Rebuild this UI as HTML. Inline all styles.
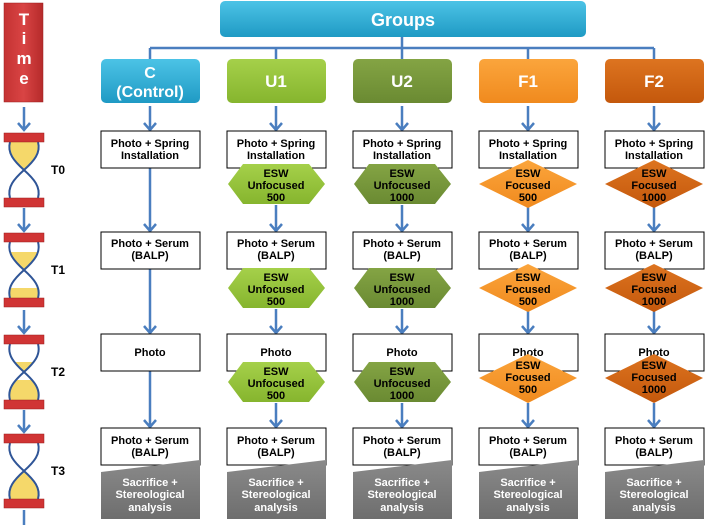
<!DOCTYPE html>
<html><head><meta charset="utf-8"><style>
html,body{margin:0;padding:0;background:#fff;width:708px;height:525px;overflow:hidden}
svg text{font-family:"Liberation Sans",sans-serif;font-weight:bold;text-anchor:middle}
.b{fill:#fff;stroke:#000;stroke-width:1}
.t{font-size:11px;fill:#000}
.w{font-size:11px;fill:#fff}
.h{font-size:17px;fill:#fff}
.ln{stroke:#4a7ebf;stroke-width:2.5;fill:none}
.hg{stroke:#2f5597;stroke-width:2;fill:none}
.bar{fill:#d03434;stroke:#9b1f1f;stroke-width:.5}
.sd{fill:#f5d86a}
</style></head><body>
<svg width="708" height="525" viewBox="0 0 708 525" xmlns="http://www.w3.org/2000/svg">
<defs>
<linearGradient id="cy" x1="0" y1="0" x2="0" y2="1"><stop offset="0" stop-color="#4cc3e6"/><stop offset="1" stop-color="#1f9ac4"/></linearGradient>
<linearGradient id="g1" x1="0" y1="0" x2="0" y2="1"><stop offset="0" stop-color="#a5d04a"/><stop offset="1" stop-color="#86b52e"/></linearGradient>
<linearGradient id="g2" x1="0" y1="0" x2="0" y2="1"><stop offset="0" stop-color="#84a444"/><stop offset="1" stop-color="#6a8a32"/></linearGradient>
<linearGradient id="o1" x1="0" y1="0" x2="0" y2="1"><stop offset="0" stop-color="#fba53c"/><stop offset="1" stop-color="#f08a1e"/></linearGradient>
<linearGradient id="o2" x1="0" y1="0" x2="0" y2="1"><stop offset="0" stop-color="#dd7420"/><stop offset="1" stop-color="#c4580c"/></linearGradient>
<linearGradient id="rd" x1="0" y1="0" x2="1" y2="0"><stop offset="0" stop-color="#c43232"/><stop offset=".5" stop-color="#d94444"/><stop offset="1" stop-color="#b52a2a"/></linearGradient>
<linearGradient id="gy" x1="0" y1="0" x2="0" y2="1"><stop offset="0" stop-color="#8a8a8a"/><stop offset="1" stop-color="#6e6e6e"/></linearGradient>
</defs>

<!-- Time -->
<rect x="4" y="3" width="39" height="99" fill="url(#rd)" stroke="#9b1f1f" stroke-width=".5"/>
<text x="24" y="25" class="h" style="font-size:17px">T</text>
<text x="24" y="44" class="h" style="font-size:17px">i</text>
<text x="24" y="64" class="h" style="font-size:17px">m</text>
<text x="24" y="84" class="h" style="font-size:17px">e</text>

<!-- time arrows -->
<path class="ln" d="M24,107V130M18,123L24,130L30,123"/>
<path class="ln" d="M24,208V231M18,224L24,231L30,224"/>
<path class="ln" d="M24,310V333M18,326L24,333L30,326"/>
<path class="ln" d="M24,410V432M18,425L24,432L30,425"/>
<path class="ln" d="M24,510V525"/>

<!-- hourglass T0 t=133 -->
<path class="sd" d="M10,142 C7,153 14,161 24,170 C34,161 41,153 38,142Z"/>
<path class="hg" d="M10,142 C7,153 14,161 24,170 C34,179 41,187 38,198 M38,142 C41,153 34,161 24,170 C14,179 7,187 10,198"/>
<rect class="bar" x="4" y="133" width="40" height="9"/><rect class="bar" x="4" y="198" width="40" height="9"/>
<text x="58" y="174" class="t" style="font-size:12px">T0</text>

<!-- T1 t=233 -->
<clipPath id="c1a"><rect x="0" y="252" width="50" height="20"/></clipPath>
<clipPath id="c1b"><rect x="0" y="288" width="50" height="12"/></clipPath>
<path class="sd" clip-path="url(#c1a)" d="M10,242 C7,253 14,261 24,270 C34,261 41,253 38,242Z"/>
<path class="sd" clip-path="url(#c1b)" d="M24,270 C34,279 41,287 38,298 L10,298 C7,287 14,279 24,270Z"/>
<path class="hg" d="M10,242 C7,253 14,261 24,270 C34,279 41,287 38,298 M38,242 C41,253 34,261 24,270 C14,279 7,287 10,298"/>
<rect class="bar" x="4" y="233" width="40" height="9"/><rect class="bar" x="4" y="298" width="40" height="9"/>
<text x="58" y="274" class="t" style="font-size:12px">T1</text>

<!-- T2 t=335 -->
<clipPath id="c2a"><rect x="0" y="362" width="50" height="12"/></clipPath>
<clipPath id="c2b"><rect x="0" y="380" width="50" height="22"/></clipPath>
<path class="sd" clip-path="url(#c2a)" d="M10,344 C7,355 14,363 24,372 C34,363 41,355 38,344Z"/>
<path class="sd" clip-path="url(#c2b)" d="M24,372 C34,381 41,389 38,400 L10,400 C7,389 14,381 24,372Z"/>
<path class="hg" d="M10,344 C7,355 14,363 24,372 C34,381 41,389 38,400 M38,344 C41,355 34,363 24,372 C14,381 7,389 10,400"/>
<rect class="bar" x="4" y="335" width="40" height="9"/><rect class="bar" x="4" y="400" width="40" height="9"/>
<text x="58" y="376" class="t" style="font-size:12px">T2</text>

<!-- T3 t=434 -->
<path class="sd" d="M24,471 C34,480 41,488 38,499 L10,499 C7,488 14,480 24,471Z"/>
<path class="hg" d="M10,443 C7,454 14,462 24,471 C34,480 41,488 38,499 M38,443 C41,454 34,462 24,471 C14,480 7,488 10,499"/>
<rect class="bar" x="4" y="434" width="40" height="9"/><rect class="bar" x="4" y="499" width="40" height="9"/>
<text x="58" y="475" class="t" style="font-size:12px">T3</text>

<!-- Groups -->
<rect x="220" y="1" width="366" height="36" rx="5" fill="url(#cy)"/>
<text x="403" y="26" class="h" style="font-size:18px">Groups</text>
<path class="ln" d="M150,48H654M150,48V59M276,48V59M402,37V59M528,48V59M654,48V59" style="stroke-width:2.5"/>

<rect x="101" y="59" width="99" height="44" rx="5" fill="url(#cy)"/>
<text x="150" y="78" class="h" style="font-size:16px">C</text>
<text x="150" y="97" class="h" style="font-size:16px">(Control)</text>
<rect x="227" y="59" width="99" height="44" rx="5" fill="url(#g1)"/>
<text x="276" y="87" class="h">U1</text>
<rect x="353" y="59" width="99" height="44" rx="5" fill="url(#g2)"/>
<text x="402" y="87" class="h">U2</text>
<rect x="479" y="59" width="99" height="44" rx="5" fill="url(#o1)"/>
<text x="528" y="87" class="h">F1</text>
<rect x="605" y="59" width="99" height="44" rx="5" fill="url(#o2)"/>
<text x="654" y="87" class="h">F2</text>

<!-- C column arrows -->
<path class="ln" d="M150,106V130M144,123L150,130L156,123 M150,168V231M144,224L150,231L156,224 M150,269V333M144,326L150,333L156,326 M150,371V427M144,420L150,427L156,420"/>
<!-- other column arrows -->
<path class="ln" d="M276,106V130M270,123L276,130L282,123 M276,205V231M270,224L276,231L282,224 M276,309V333M270,326L276,333L282,326 M276,403V427M270,420L276,427L282,420"/>
<path class="ln" d="M402,106V130M396,123L402,130L408,123 M402,205V231M396,224L402,231L408,224 M402,309V333M396,326L402,333L408,326 M402,403V427M396,420L402,427L408,420"/>
<path class="ln" d="M528,106V130M522,123L528,130L534,123 M528,205V231M522,224L528,231L534,224 M528,309V333M522,326L528,333L534,326 M528,403V427M522,420L528,427L534,420"/>
<path class="ln" d="M654,106V130M648,123L654,130L660,123 M654,205V231M648,224L654,231L660,224 M654,309V333M648,326L654,333L660,326 M654,403V427M648,420L654,427L660,420"/>

<!-- Row 1 boxes -->
<rect class="b" x="101" y="131" width="99" height="37"/><text x="150" y="147" class="t">Photo + Spring</text><text x="150" y="159" class="t">Installation</text>
<rect class="b" x="227" y="131" width="99" height="37"/><text x="276" y="147" class="t">Photo + Spring</text><text x="276" y="159" class="t">Installation</text>
<rect class="b" x="353" y="131" width="99" height="37"/><text x="402" y="147" class="t">Photo + Spring</text><text x="402" y="159" class="t">Installation</text>
<rect class="b" x="479" y="131" width="99" height="37"/><text x="528" y="147" class="t">Photo + Spring</text><text x="528" y="159" class="t">Installation</text>
<rect class="b" x="605" y="131" width="99" height="37"/><text x="654" y="147" class="t">Photo + Spring</text><text x="654" y="159" class="t">Installation</text>

<!-- Row 2 boxes -->
<rect class="b" x="101" y="232" width="99" height="37"/><text x="150" y="247" class="t">Photo + Serum</text><text x="150" y="259" class="t">(BALP)</text>
<rect class="b" x="227" y="232" width="99" height="37"/><text x="276" y="247" class="t">Photo + Serum</text><text x="276" y="259" class="t">(BALP)</text>
<rect class="b" x="353" y="232" width="99" height="37"/><text x="402" y="247" class="t">Photo + Serum</text><text x="402" y="259" class="t">(BALP)</text>
<rect class="b" x="479" y="232" width="99" height="37"/><text x="528" y="247" class="t">Photo + Serum</text><text x="528" y="259" class="t">(BALP)</text>
<rect class="b" x="605" y="232" width="99" height="37"/><text x="654" y="247" class="t">Photo + Serum</text><text x="654" y="259" class="t">(BALP)</text>

<!-- Row 3 boxes -->
<rect class="b" x="101" y="334" width="99" height="37"/><text x="150" y="356" class="t">Photo</text>
<rect class="b" x="227" y="334" width="99" height="37"/><text x="276" y="356" class="t">Photo</text>
<rect class="b" x="353" y="334" width="99" height="37"/><text x="402" y="356" class="t">Photo</text>
<rect class="b" x="479" y="334" width="99" height="37"/><text x="528" y="356" class="t">Photo</text>
<rect class="b" x="605" y="334" width="99" height="37"/><text x="654" y="356" class="t">Photo</text>

<!-- Row 4 boxes -->
<rect class="b" x="101" y="428" width="99" height="37"/><text x="150" y="444" class="t">Photo + Serum</text><text x="150" y="456" class="t">(BALP)</text>
<rect class="b" x="227" y="428" width="99" height="37"/><text x="276" y="444" class="t">Photo + Serum</text><text x="276" y="456" class="t">(BALP)</text>
<rect class="b" x="353" y="428" width="99" height="37"/><text x="402" y="444" class="t">Photo + Serum</text><text x="402" y="456" class="t">(BALP)</text>
<rect class="b" x="479" y="428" width="99" height="37"/><text x="528" y="444" class="t">Photo + Serum</text><text x="528" y="456" class="t">(BALP)</text>
<rect class="b" x="605" y="428" width="99" height="37"/><text x="654" y="444" class="t">Photo + Serum</text><text x="654" y="456" class="t">(BALP)</text>

<!-- Gray sacrifice -->
<g>
<polygon points="101,472 200,460 200,519 101,519" fill="url(#gy)"/><text x="150" y="486" class="w">Sacrifice +</text><text x="150" y="498" class="w">Stereological</text><text x="150" y="511" class="w">analysis</text>
<polygon points="227,472 326,460 326,519 227,519" fill="url(#gy)"/><text x="276" y="486" class="w">Sacrifice +</text><text x="276" y="498" class="w">Stereological</text><text x="276" y="511" class="w">analysis</text>
<polygon points="353,472 452,460 452,519 353,519" fill="url(#gy)"/><text x="402" y="486" class="w">Sacrifice +</text><text x="402" y="498" class="w">Stereological</text><text x="402" y="511" class="w">analysis</text>
<polygon points="479,472 578,460 578,519 479,519" fill="url(#gy)"/><text x="528" y="486" class="w">Sacrifice +</text><text x="528" y="498" class="w">Stereological</text><text x="528" y="511" class="w">analysis</text>
<polygon points="605,472 704,460 704,519 605,519" fill="url(#gy)"/><text x="654" y="486" class="w">Sacrifice +</text><text x="654" y="498" class="w">Stereological</text><text x="654" y="511" class="w">analysis</text>
</g>

<!-- U1 hexes -->
<polygon points="228,184 243,164 309,164 325,184 309,204 243,204" fill="url(#g1)"/>
<text x="276" y="177" class="t">ESW</text><text x="276" y="189" class="t">Unfocused</text><text x="276" y="201" class="t">500</text>
<polygon points="228,288 243,268 309,268 325,288 309,308 243,308" fill="url(#g1)"/>
<text x="276" y="281" class="t">ESW</text><text x="276" y="293" class="t">Unfocused</text><text x="276" y="305" class="t">500</text>
<polygon points="228,382 243,362 309,362 325,382 309,402 243,402" fill="url(#g1)"/>
<text x="276" y="375" class="t">ESW</text><text x="276" y="387" class="t">Unfocused</text><text x="276" y="399" class="t">500</text>

<!-- U2 hexes -->
<polygon points="354,184 369,164 435,164 451,184 435,204 369,204" fill="url(#g2)"/>
<text x="402" y="177" class="t">ESW</text><text x="402" y="189" class="t">Unfocused</text><text x="402" y="201" class="t">1000</text>
<polygon points="354,288 369,268 435,268 451,288 435,308 369,308" fill="url(#g2)"/>
<text x="402" y="281" class="t">ESW</text><text x="402" y="293" class="t">Unfocused</text><text x="402" y="305" class="t">1000</text>
<polygon points="354,382 369,362 435,362 451,382 435,402 369,402" fill="url(#g2)"/>
<text x="402" y="375" class="t">ESW</text><text x="402" y="387" class="t">Unfocused</text><text x="402" y="399" class="t">1000</text>

<!-- F1 diamonds -->
<polygon points="479,184 528,160 577,184 528,208" fill="url(#o1)"/>
<text x="528" y="177" class="t">ESW</text><text x="528" y="189" class="t">Focused</text><text x="528" y="201" class="t">500</text>
<polygon points="479,288 528,264 577,288 528,312" fill="url(#o1)"/>
<text x="528" y="281" class="t">ESW</text><text x="528" y="293" class="t">Focused</text><text x="528" y="305" class="t">500</text>
<polygon points="479,378 528,354 577,378 528,403" fill="url(#o1)"/>
<text x="528" y="369" class="t">ESW</text><text x="528" y="381" class="t">Focused</text><text x="528" y="393" class="t">500</text>

<!-- F2 diamonds -->
<polygon points="605,184 654,160 703,184 654,208" fill="url(#o2)"/>
<text x="654" y="177" class="t">ESW</text><text x="654" y="189" class="t">Focused</text><text x="654" y="201" class="t">1000</text>
<polygon points="605,288 654,264 703,288 654,312" fill="url(#o2)"/>
<text x="654" y="281" class="t">ESW</text><text x="654" y="293" class="t">Focused</text><text x="654" y="305" class="t">1000</text>
<polygon points="605,378 654,354 703,378 654,403" fill="url(#o2)"/>
<text x="654" y="369" class="t">ESW</text><text x="654" y="381" class="t">Focused</text><text x="654" y="393" class="t">1000</text>
</svg>
</body></html>
